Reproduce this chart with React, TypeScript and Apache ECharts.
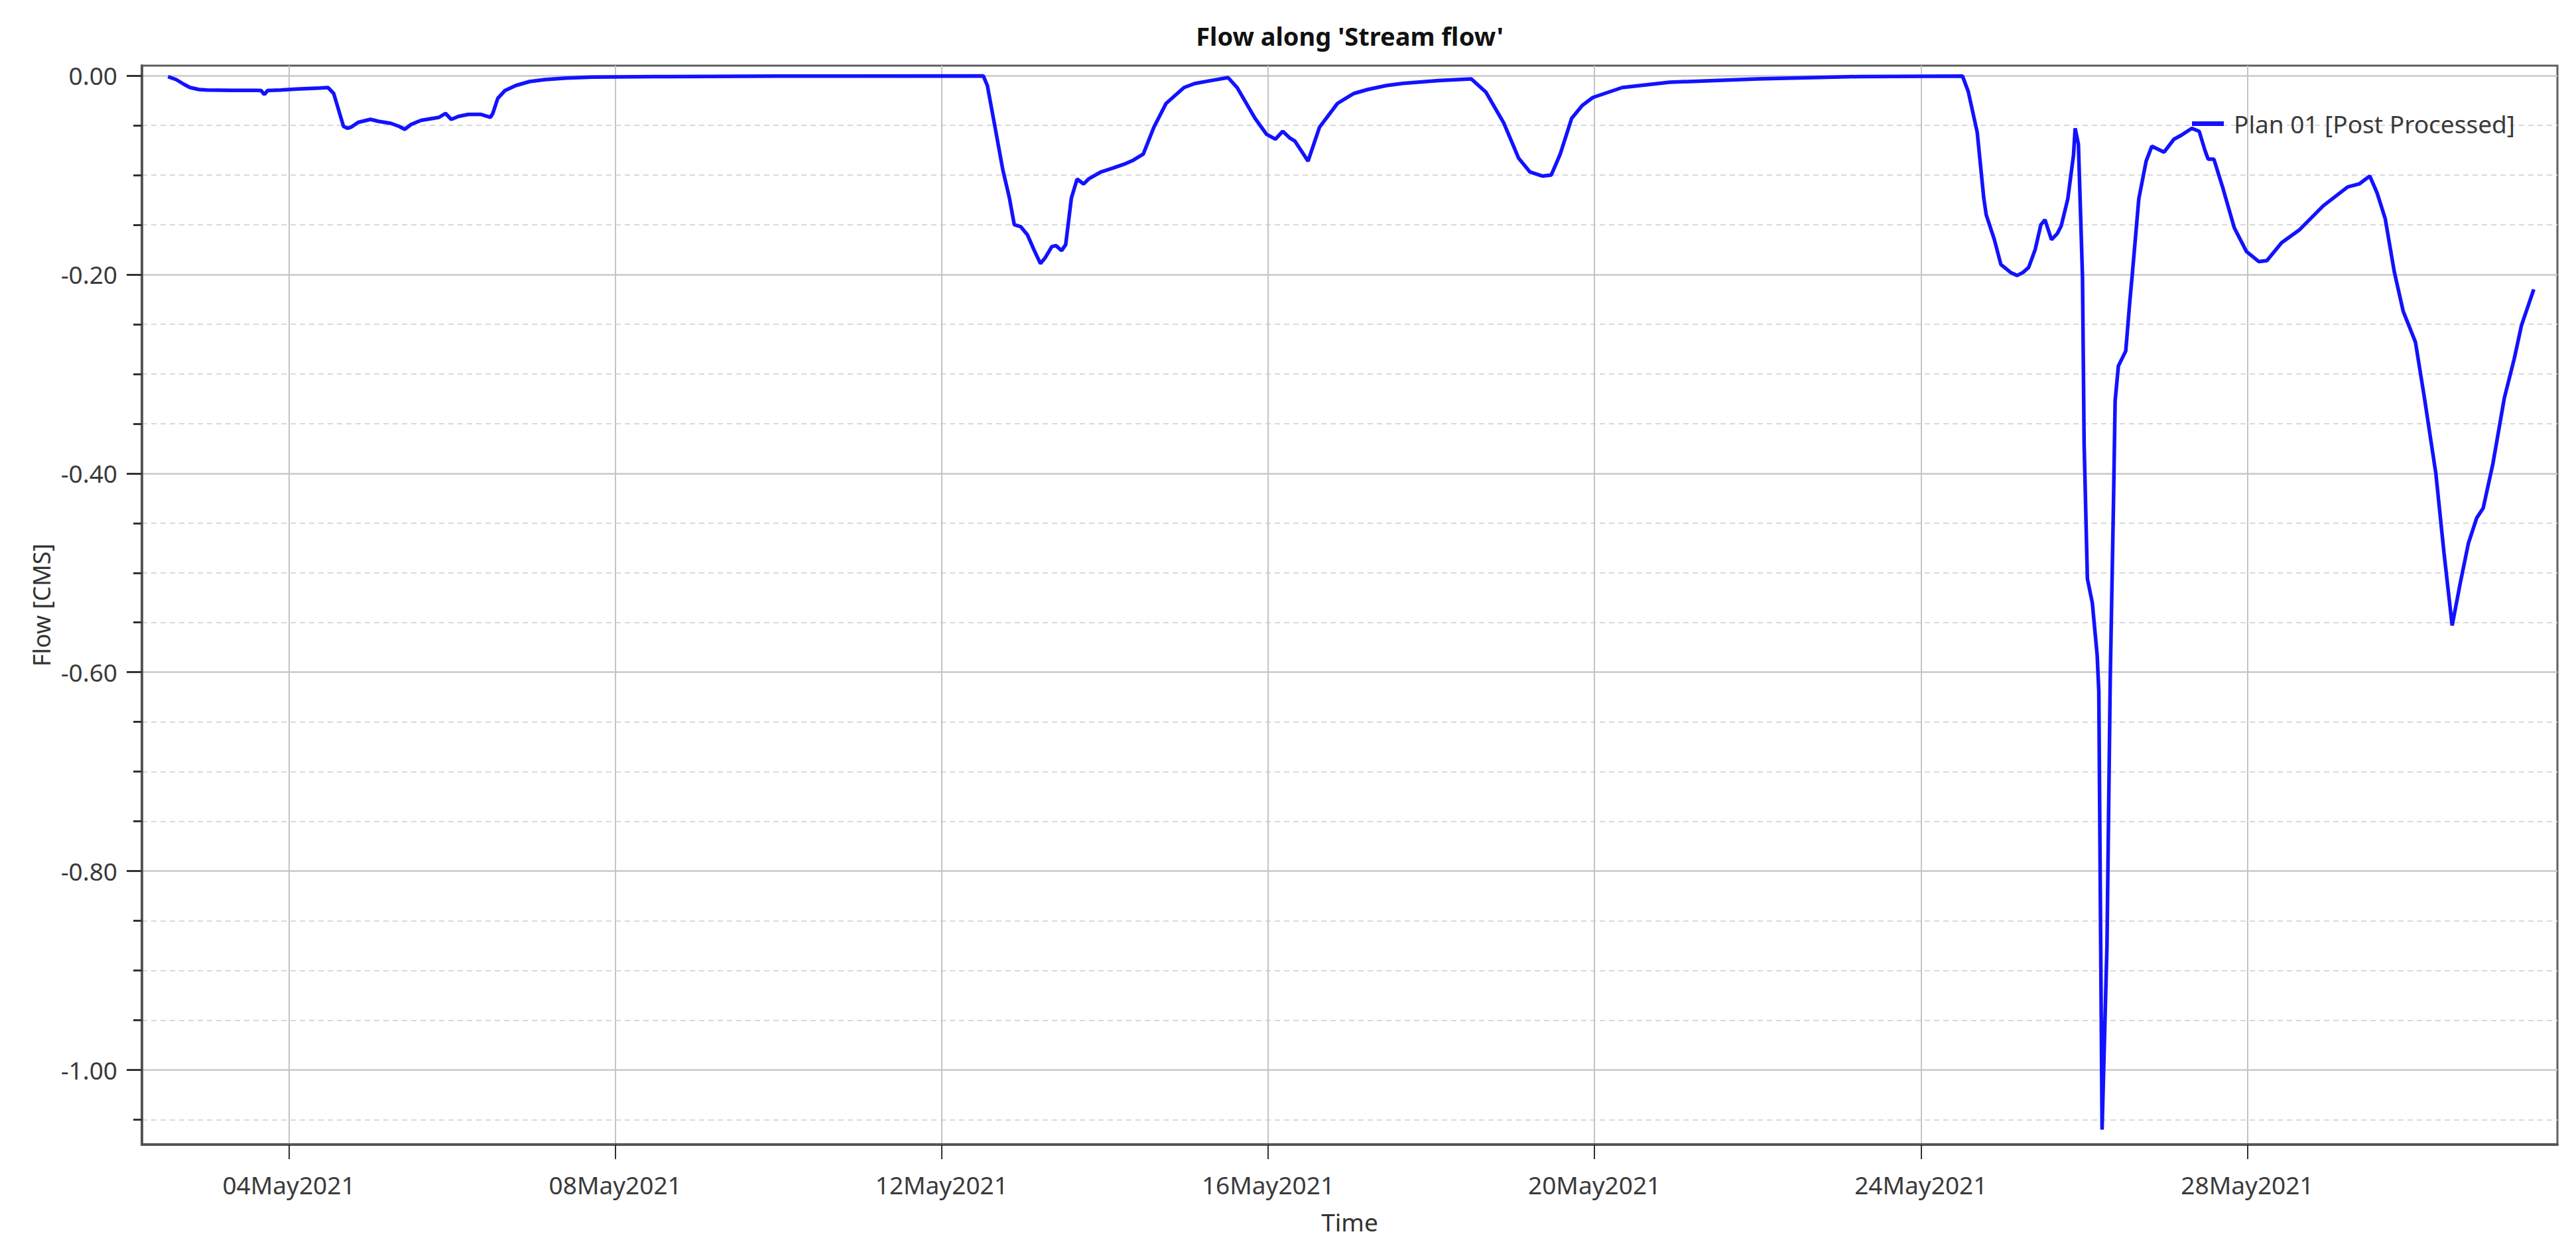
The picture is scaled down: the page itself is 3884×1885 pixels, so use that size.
import React, { useEffect, useRef } from 'react';
import * as echarts from 'echarts';

// Time as day-of-May-2021 (fractional days), flow in CMS
const timeDays = [
  2.52, 2.62, 2.72, 2.79, 2.9, 3.0, 3.3, 3.6, 3.66, 3.7, 3.74, 3.9, 4.1, 4.38, 4.48,
  4.55, 4.67, 4.72, 4.76, 4.85, 5.0, 5.1, 5.25, 5.35, 5.42, 5.5, 5.62, 5.84, 5.92, 5.99,
  6.08, 6.2, 6.35, 6.47, 6.5, 6.56, 6.65, 6.78, 6.95, 7.14, 7.4, 7.72, 8.5, 10.0, 12.51,
  12.56, 12.65, 12.75, 12.83, 12.89, 12.97, 13.05, 13.13, 13.21, 13.27, 13.35, 13.4, 13.47, 13.52,
  13.59, 13.66, 13.74, 13.8, 13.95, 14.1, 14.24, 14.35, 14.47, 14.6, 14.75, 14.97, 15.1, 15.26,
  15.51, 15.62, 15.84, 15.98, 16.09, 16.18, 16.27, 16.33, 16.49, 16.63, 16.85, 17.05, 17.22, 17.45,
  17.65, 18.09, 18.49, 18.67, 18.89, 19.07, 19.21, 19.36, 19.47, 19.58, 19.72, 19.85, 19.98, 20.34,
  20.92, 22.0, 23.23, 24.51, 24.58, 24.69, 24.77, 24.8, 24.9, 24.98, 25.1, 25.18, 25.25, 25.32,
  25.4, 25.47, 25.52, 25.6, 25.67, 25.72, 25.8, 25.87, 25.89, 25.93, 25.98, 26.0, 26.04, 26.1,
  26.16, 26.18, 26.22, 26.28, 26.32, 26.36, 26.38, 26.42, 26.51, 26.56, 26.59, 26.67, 26.76, 26.83,
  26.98, 27.1, 27.19, 27.32, 27.41, 27.48, 27.52, 27.59, 27.7, 27.84, 27.99, 28.14, 28.24, 28.42,
  28.64, 28.93, 29.23, 29.37, 29.5, 29.59, 29.69, 29.8, 29.91, 30.06, 30.17, 30.31, 30.41, 30.51,
  30.61, 30.71, 30.81, 30.89, 31.01, 31.15, 31.27, 31.36, 31.51,
];

const flowValues = [
  -0.001, -0.004, -0.009, -0.012, -0.014, -0.0145, -0.0148, -0.0148, -0.015, -0.019, -0.015, -0.0145, -0.0135, -0.0125, -0.012,
  -0.018, -0.051, -0.053, -0.052, -0.047, -0.044, -0.046, -0.048, -0.051, -0.054, -0.049, -0.045, -0.042, -0.038, -0.044,
  -0.041, -0.039, -0.039, -0.042, -0.038, -0.023, -0.015, -0.01, -0.006, -0.004, -0.0025, -0.0015, -0.001, -0.0005, -0.0003,
  -0.01, -0.05, -0.095, -0.123, -0.15, -0.152, -0.16, -0.175, -0.189, -0.183, -0.172, -0.171, -0.176, -0.17,
  -0.123, -0.104, -0.109, -0.104, -0.097, -0.093, -0.089, -0.085, -0.079, -0.052, -0.028, -0.012, -0.008, -0.0056,
  -0.002, -0.012, -0.043, -0.059, -0.064, -0.056, -0.063, -0.066, -0.086, -0.052, -0.028, -0.018, -0.014, -0.01,
  -0.0078, -0.005, -0.0033, -0.0167, -0.048, -0.083, -0.097, -0.101, -0.1, -0.079, -0.043, -0.03, -0.022, -0.012,
  -0.0067, -0.0033, -0.001, -0.0005, -0.016, -0.057, -0.123, -0.14, -0.165, -0.19, -0.198, -0.201, -0.198, -0.193,
  -0.175, -0.15, -0.145, -0.165, -0.159, -0.151, -0.124, -0.08, -0.053, -0.069, -0.202, -0.37, -0.506, -0.53,
  -0.583, -0.619, -1.06, -0.875, -0.607, -0.429, -0.327, -0.292, -0.277, -0.227, -0.2, -0.124, -0.086, -0.071,
  -0.077, -0.064, -0.06, -0.053, -0.056, -0.075, -0.084, -0.084, -0.113, -0.153, -0.177, -0.187, -0.186, -0.168,
  -0.155, -0.131, -0.112, -0.109, -0.101, -0.118, -0.144, -0.197, -0.237, -0.268, -0.324, -0.4, -0.48, -0.553,
  -0.51, -0.47, -0.445, -0.435, -0.39, -0.324, -0.285, -0.251, -0.215,
];

const xTickDays = [4, 8, 12, 16, 20, 24, 28];
const yMajorTicks = [0, -0.2, -0.4, -0.6, -0.8, -1.0];
const yMinorTicks = [
  -0.05, -0.1, -0.15, -0.25, -0.3, -0.35, -0.45, -0.5, -0.55, -0.65, -0.7, -0.75, -0.85, -0.9, -0.95, -1.05,
];

const seriesName = 'Plan 01 [Post Processed]';
const chartTitle = "Flow along 'Stream flow'";

export default function App() {
  const ref = useRef<HTMLDivElement>(null);

  useEffect(() => {
    if (!ref.current) return;
    const chart = echarts.init(ref.current, null, { renderer: 'svg' });
    const font = '"Noto Sans", "Open Sans", sans-serif';
    const data = timeDays.map((t, i) => [t, flowValues[i]]);
    const blue = '#1212ff';

    chart.setOption({
      animation: false,
      backgroundColor: '#ffffff',
      grid: {
        left: 214,
        right: 28,
        top: 99,
        bottom: 159,
        show: true,
        borderColor: '#5f5f5f',
        borderWidth: 3,
        backgroundColor: 'transparent',
      },
      graphic: [
        {
          type: 'text',
          x: 2035,
          y: 54,
          style: {
            text: chartTitle,
            fill: '#111111',
            fontSize: 38,
            fontWeight: 'bold',
            fontFamily: font,
            align: 'center',
            verticalAlign: 'middle',
          },
        },
      ],
      legend: {
        show: true,
        left: 3300,
        top: 163,
        itemWidth: 48,
        itemHeight: 7,
        data: [{ name: seriesName, icon: 'rect', itemStyle: { color: blue } }],
        textStyle: {
          fontSize: 37,
          color: '#3a3a3a',
          fontFamily: font,
          padding: [0, 0, 0, 10],
        },
      },
      xAxis: {
        type: 'value',
        min: 2.2,
        max: 31.8,
        name: 'Time',
        nameLocation: 'middle',
        nameGap: 98,
        nameTextStyle: { fontSize: 37, color: '#333333', fontFamily: font },
        axisLine: { show: true, onZero: false, lineStyle: { color: '#555555', width: 4 } },
        axisTick: {
          show: true,
          customValues: xTickDays,
          length: 22,
          lineStyle: { color: '#333333', width: 2 },
        },
        axisLabel: {
          show: true,
          customValues: xTickDays,
          margin: 42,
          fontSize: 37,
          color: '#3a3a3a',
          fontFamily: font,
          formatter: (v: number) => String(Math.round(v)).padStart(2, '0') + 'May2021',
        },
        splitLine: { show: true, lineStyle: { color: '#c4c4c4', width: 2, type: 'solid' } },
      },
      yAxis: [
        {
          type: 'value',
          min: -1.075,
          max: 0.01,
          position: 'left',
          name: 'Flow [CMS]',
          nameLocation: 'middle',
          nameGap: 132,
          nameTextStyle: { fontSize: 36, color: '#333333', fontFamily: font },
          axisLine: { show: true, onZero: false, lineStyle: { color: '#555555', width: 4 } },
          axisTick: {
            show: true,
            customValues: yMajorTicks,
            length: 23,
            lineStyle: { color: '#333333', width: 3 },
          },
          axisLabel: {
            show: true,
            customValues: yMajorTicks,
            margin: 37,
            fontSize: 37,
            color: '#3a3a3a',
            fontFamily: font,
            formatter: (v: number) => (Math.abs(v) < 1e-9 ? 0 : v).toFixed(2),
          },
          splitLine: { show: true, lineStyle: { color: '#c8c8c8', width: 2.5, type: 'solid' } },
        },
        {
          type: 'value',
          min: -1.075,
          max: 0.01,
          position: 'left',
          offset: 0,
          axisLine: { show: false, onZero: false },
          axisTick: {
            show: true,
            customValues: yMinorTicks,
            length: 13,
            lineStyle: { color: '#333333', width: 3 },
          },
          axisLabel: { show: false, customValues: yMinorTicks },
          splitLine: { show: true, lineStyle: { color: '#d9d9d9', width: 2, type: [8, 6] } },
        },
      ],
      series: [
        {
          name: seriesName,
          type: 'line',
          xAxisIndex: 0,
          yAxisIndex: 0,
          data,
          symbol: 'none',
          showSymbol: false,
          smooth: false,
          lineStyle: { color: blue, width: 5.5 },
          itemStyle: { color: blue },
          z: 5,
        },
      ],
    });

    return () => {
      chart.dispose();
    };
  }, []);

  return (
    <div
      ref={ref}
      style={{ position: 'fixed', left: 0, top: 0, width: 3884, height: 1885, background: '#fff' }}
    />
  );
}
